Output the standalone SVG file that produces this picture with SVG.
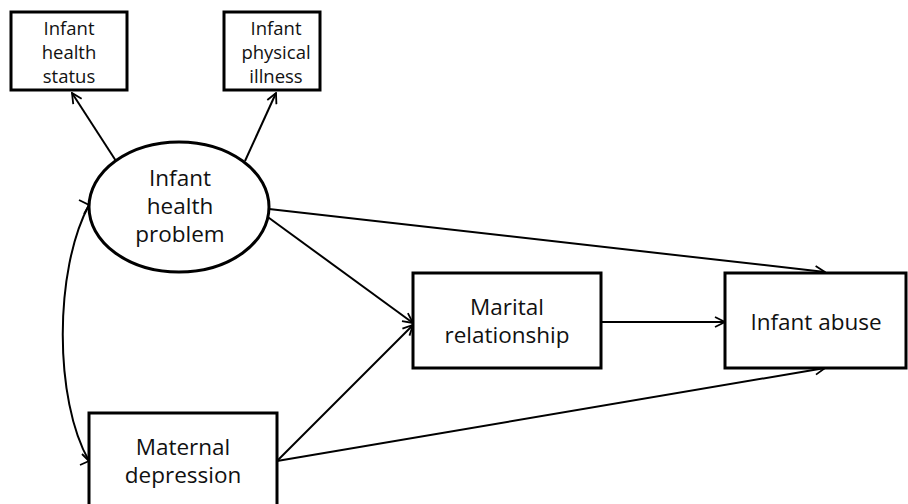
<svg xmlns="http://www.w3.org/2000/svg" width="908" height="504" viewBox="0 0 908 504">
<style>
.box{fill:#fff;stroke:#000;stroke-width:3}
.t{font-family:"Open Sans","Noto Sans","DejaVu Sans",sans-serif;fill:#111;text-anchor:middle}
.s{font-size:18.5px}
.b{font-size:22.5px}
.c{fill:none;stroke:#000;stroke-width:2}
</style>
<defs>
<marker id="ah" viewBox="0 0 12 12" refX="11" refY="6" markerWidth="12" markerHeight="12" markerUnits="userSpaceOnUse" orient="auto">
<path d="M1,1 L11,6 L1,11" fill="none" stroke="#000" stroke-width="1.8"/>
</marker>
</defs>
<rect width="908" height="504" fill="#fff"/>
<g id="connectors">
<line class="c" x1="116" y1="161" x2="72" y2="93" marker-end="url(#ah)"/>
<line class="c" x1="245" y1="161" x2="276" y2="93" marker-end="url(#ah)"/>
<path class="c" d="M89,205 C54,270 54,400 89,461"/>
<line class="c" x1="269" y1="209" x2="825" y2="272" marker-end="url(#ah)"/>
<line class="c" x1="265" y1="215" x2="413" y2="323" marker-end="url(#ah)"/>
<line class="c" x1="277" y1="461" x2="413" y2="325" marker-end="url(#ah)"/>
<line class="c" x1="277" y1="461" x2="825" y2="368" marker-end="url(#ah)"/>
<line class="c" x1="601" y1="322" x2="725" y2="322" marker-end="url(#ah)"/>
<path d="M79,200 L89,205 L84,214" fill="none" stroke="#000" stroke-width="1.8"/>
<path d="M82,454 L89,461 L80,465" fill="none" stroke="#000" stroke-width="1.8"/>
</g>
<g id="n-status">
<rect class="box" x="11" y="12" width="116" height="78"/>
<text class="t s"><tspan x="69" y="35">Infant</tspan><tspan x="69" y="59">health</tspan><tspan x="69" y="83">status</tspan></text>
</g>
<g id="n-illness">
<rect class="box" x="224" y="12" width="96" height="78"/>
<text class="t s"><tspan x="276" y="35">Infant</tspan><tspan x="276" y="59">physical</tspan><tspan x="276" y="83">illness</tspan></text>
</g>
<g id="n-problem">
<ellipse class="box" cx="179" cy="207" rx="90" ry="65"/>
<text class="t b"><tspan x="180" y="186">Infant</tspan><tspan x="180" y="214">health</tspan><tspan x="180" y="242">problem</tspan></text>
</g>
<g id="n-marital">
<rect class="box" x="413" y="273" width="188" height="95"/>
<text class="t b"><tspan x="507" y="315">Marital</tspan><tspan x="507" y="343">relationship</tspan></text>
</g>
<g id="n-abuse">
<rect class="box" x="725" y="273" width="181" height="95"/>
<text class="t b" x="816" y="330">Infant abuse</text>
</g>
<g id="n-depression">
<rect class="box" x="89" y="413" width="188" height="100"/>
<text class="t b"><tspan x="183" y="455">Maternal</tspan><tspan x="183" y="483">depression</tspan></text>
</g>
</svg>
